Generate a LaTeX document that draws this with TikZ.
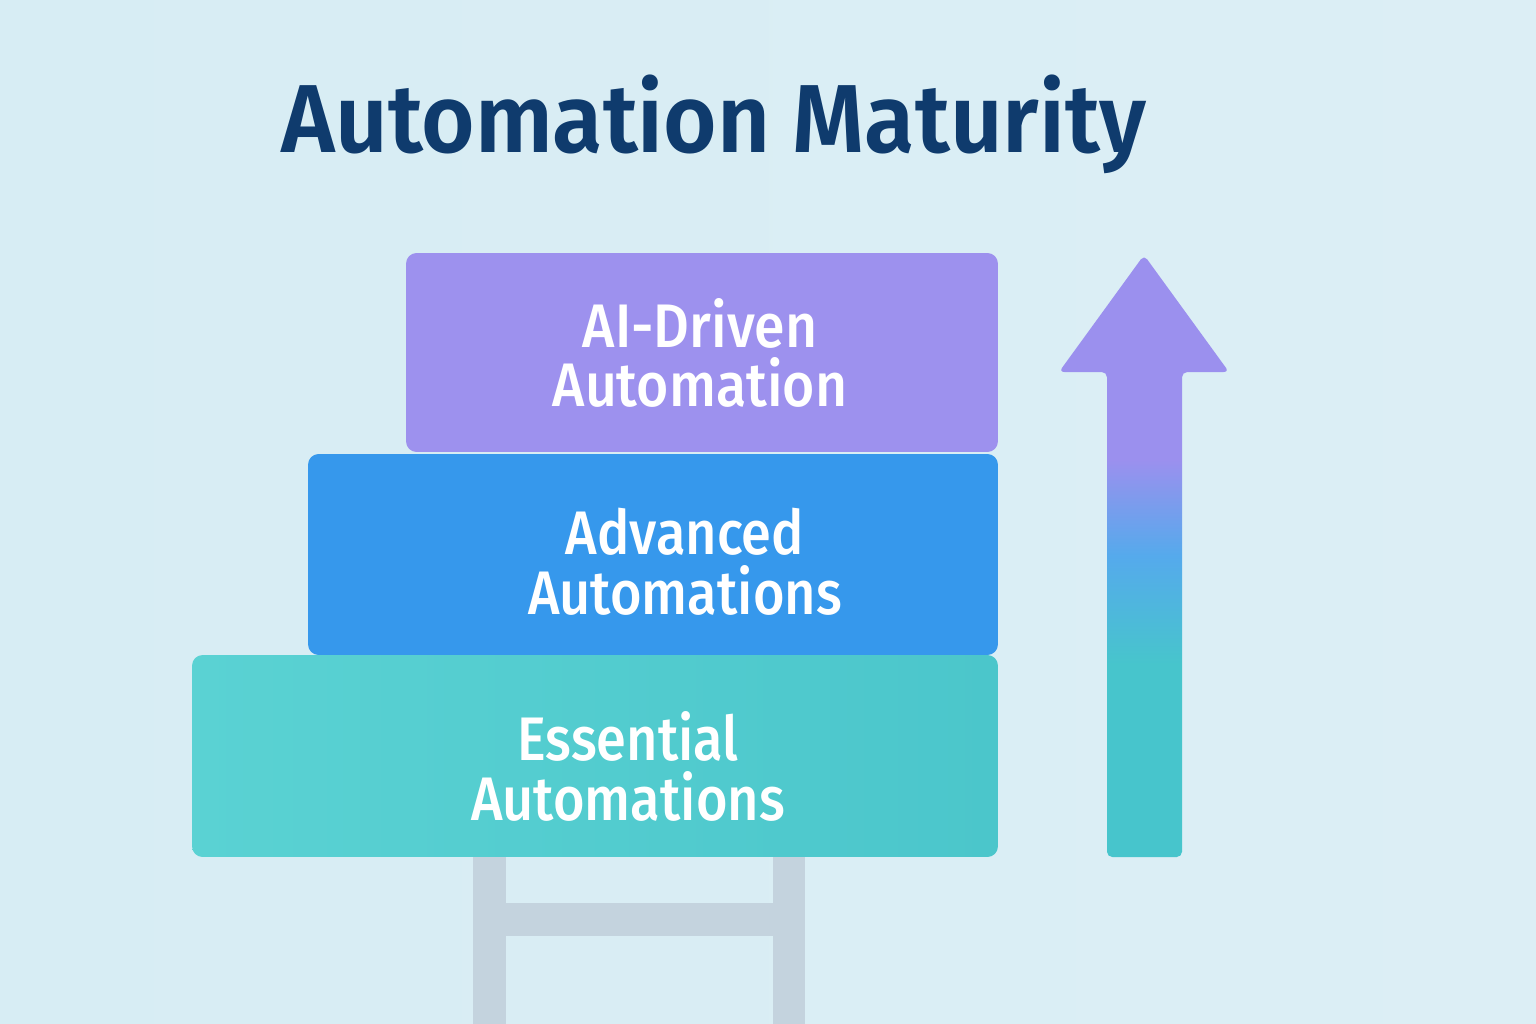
\documentclass[tikz,border=0pt]{standalone}
\usepackage{fontspec}
\setmainfont{Fira Sans}
\newfontfamily\tierfont{Fira Sans Medium}
\newfontfamily\titlefont{Fira Sans SemiBold}
\usepackage{graphicx}
\usepackage{xcolor}

\definecolor{bgsky}{HTML}{D7EDF4}
\definecolor{bgskyb}{HTML}{DCEEF5}
\definecolor{titlenavy}{HTML}{0F3B6D}
\definecolor{tierpurple}{HTML}{9D91EE}
\definecolor{tierblue}{HTML}{3698EC}
\definecolor{tierteal}{HTML}{4BC6CB}
\definecolor{tiertealb}{HTML}{5AD2D3}
\definecolor{laddergray}{HTML}{C4D3DE}
\definecolor{arrowteal}{HTML}{47C5CC}
\definecolor{arrowblue}{HTML}{55AAEC}
\definecolor{arrowpurple}{HTML}{9B90EE}

\pgfdeclareverticalshading{risefade}{100bp}{color(0bp)=(arrowteal); color(41bp)=(arrowteal); color(50bp)=(arrowblue); color(58bp)=(arrowpurple); color(100bp)=(arrowpurple)}

\begin{document}
\begin{tikzpicture}[x=0.02cm,y=-0.02cm,
    tier/.style={rounded corners=6pt, inner sep=0pt},
    tiertext/.style={text=white, align=center, inner sep=0pt,
      font=\tierfont\fontsize{35}{34}\selectfont}]
    % Background
    \useasboundingbox (0,0) rectangle (1536,1024);
    \shade[left color=bgsky, right color=bgskyb] (0,0) rectangle (1536,1024);

    % Title
    \node[font=\titlefont\fontsize{55}{60}\selectfont, text=titlenavy,
      anchor=base, inner sep=0pt] (title) at (714,153)
      {\scalebox{0.95}[1]{Automation Maturity}};

    % Ladder under the stack
    \fill[laddergray] (473,850) rectangle (506,1024);
    \fill[laddergray] (773,850) rectangle (805,1024);
    \fill[laddergray] (506,903) rectangle (773,936);

    % Tiers
    \node[tier, fill=tierpurple, minimum width=11.84cm, minimum height=3.98cm]
      (aidriven) at (702,352.5) {};
    \node[tier, fill=tierblue, minimum width=13.8cm, minimum height=4.02cm]
      (advanced) at (653,554.5) {};
    \node[tier, left color=tiertealb, right color=tierteal,
      minimum width=16.12cm, minimum height=4.04cm]
      (essential) at (595,756) {};

    \node[tiertext] (aidrivenlabel) at (700,353)
      {\scalebox{0.9}[1]{AI-Driven}\\\scalebox{0.9}[1]{Automation}};
    \node[tiertext] (advancedlabel) at (685,562)
      {\scalebox{0.88}[1]{Advanced}\\\scalebox{0.88}[1]{Automations}};
    \node[tiertext] (essentiallabel) at (628,766.5)
      {\scalebox{0.88}[1]{Essential}\\\scalebox{0.88}[1]{Automations}};

    % Growth arrow
    \shade[shading=risefade, rounded corners=3pt]
      (1107,857) -- (1107,372) -- (1059,372) -- (1144,255)
      -- (1229,372) -- (1182,372) -- (1182,857) -- cycle;
\end{tikzpicture}
\end{document}
